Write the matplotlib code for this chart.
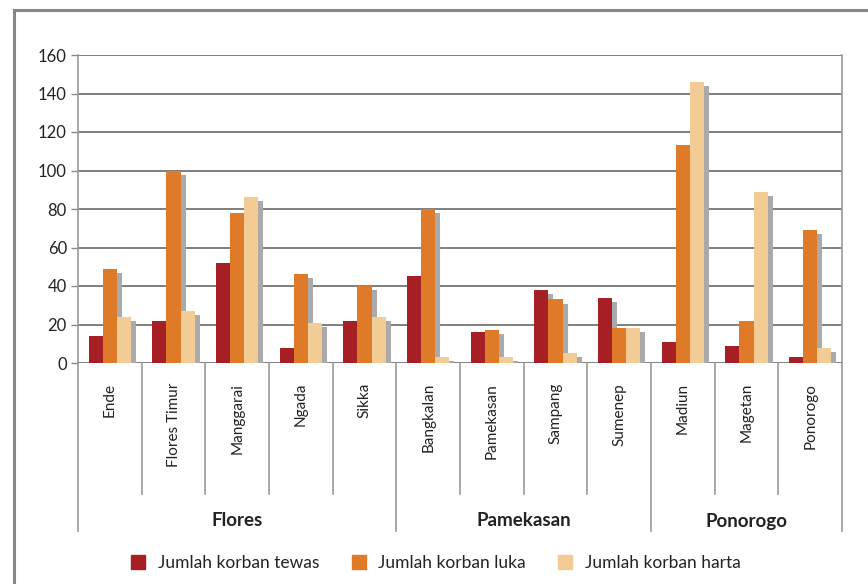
import matplotlib
matplotlib.use("Agg")
import matplotlib.pyplot as plt
import matplotlib.patheffects as pe
from matplotlib.lines import Line2D
import numpy as np

plt.rcParams['font.family'] = ['Lato', 'DejaVu Sans']

categories = ["Ende", "Flores Timur", "Manggarai", "Ngada", "Sikka",
              "Bangkalan", "Pamekasan", "Sampang", "Sumenep",
              "Madiun", "Magetan", "Ponorogo"]
groups = ["Flores", "Pamekasan", "Ponorogo"]
group_sizes = [5, 4, 3]
series_names = ["Jumlah korban tewas", "Jumlah korban luka", "Jumlah korban harta"]
tewas = [14, 22, 52, 8, 22, 45, 16, 38, 34, 11, 9, 3]
luka = [49, 100, 78, 46, 40, 80, 17, 33, 18, 113, 22, 69]
harta = [24, 27, 86, 21, 24, 3, 3, 5, 18, 146, 89, 8]
yticks = [0, 20, 40, 60, 80, 100, 120, 140, 160]

colors = ["#A61F24", "#DE7A28", "#F3CB94"]

W, H = 868, 584
fig = plt.figure(figsize=(W / 100, H / 100), dpi=100)

def fx(px):
    return px / W

def fy(py):
    return 1 - py / H

left, right, top, bottom = 78, 842, 55, 363
ax = fig.add_axes([fx(left), fy(bottom), fx(right - left), fy(top) - fy(bottom)])

# outer frame (left and top edges visible)
fig.add_artist(Line2D([fx(14), fx(14)], [fy(10), 0], color="#888888", lw=2.2,
                      transform=fig.transFigure))
fig.add_artist(Line2D([fx(14), 1], [fy(10), fy(10)], color="#888888", lw=2.2,
                      transform=fig.transFigure))

x = np.arange(len(categories))
bw = 0.22
shadow = [pe.SimplePatchShadow(offset=(3.6, -2.9), shadow_rgbFace="#aaaaaa", alpha=1.0),
          pe.Normal()]
for i, (vals, c) in enumerate(zip([tewas, luka, harta], colors)):
    bars = ax.bar(x + (i - 1) * bw, vals, bw, color=c, label=series_names[i], zorder=3)
    for b in bars:
        b.set_path_effects(shadow)

ax.set_xlim(-0.5, len(categories) - 0.5)
ax.set_ylim(0, 160)
ax.set_yticks(yticks)
ax.set_yticklabels([str(v) for v in yticks], fontsize=12, color="#222222")
ax.yaxis.grid(True, color="#747474", lw=1.3)
ax.set_axisbelow(True)
ax.tick_params(axis="y", length=5, width=1, color="#888888", pad=3)
for s in ["top", "bottom"]:
    ax.spines[s].set_visible(False)
for s in ["left", "right"]:
    ax.spines[s].set_color("#999999")
    ax.spines[s].set_linewidth(1.2)

ax.set_xticks([])
trans = ax.get_xaxis_transform()
hpx = bottom - top

def ya(py):
    return (bottom - py) / hpx

# category labels
for xi, name in zip(x, categories):
    ax.text(xi, ya(383), name, rotation=90, ha="center", va="top",
            fontsize=11, color="#222222", transform=trans, clip_on=False)

# separators
bounds = np.cumsum([0] + group_sizes)
group_edges = set(bounds.tolist())
for k in range(len(categories) + 1):
    yb = ya(531) if k in group_edges else ya(494)
    ax.add_line(Line2D([k - 0.5, k - 0.5], [0, yb], color="#999999", lw=1.2,
                       transform=trans, clip_on=False))

# group labels
for gname, a, b in zip(groups, bounds[:-1], bounds[1:]):
    ax.text((a + b - 1) / 2, ya(521), gname, ha="center", va="center",
            fontsize=13.5, fontweight="bold", color="#222222", transform=trans, clip_on=False)

handles = [Line2D([], [], marker="s", linestyle="none", markersize=9.4,
                  markerfacecolor=c, markeredgecolor=c) for c in colors]
fig.legend(handles, series_names, loc="center", bbox_to_anchor=(fx(435), fy(563)),
           ncol=3, frameon=False, fontsize=12.5, handletextpad=0.62, columnspacing=1.78,
           handlelength=1.0, labelcolor="#222222")

fig.savefig("out.png", dpi=100)
